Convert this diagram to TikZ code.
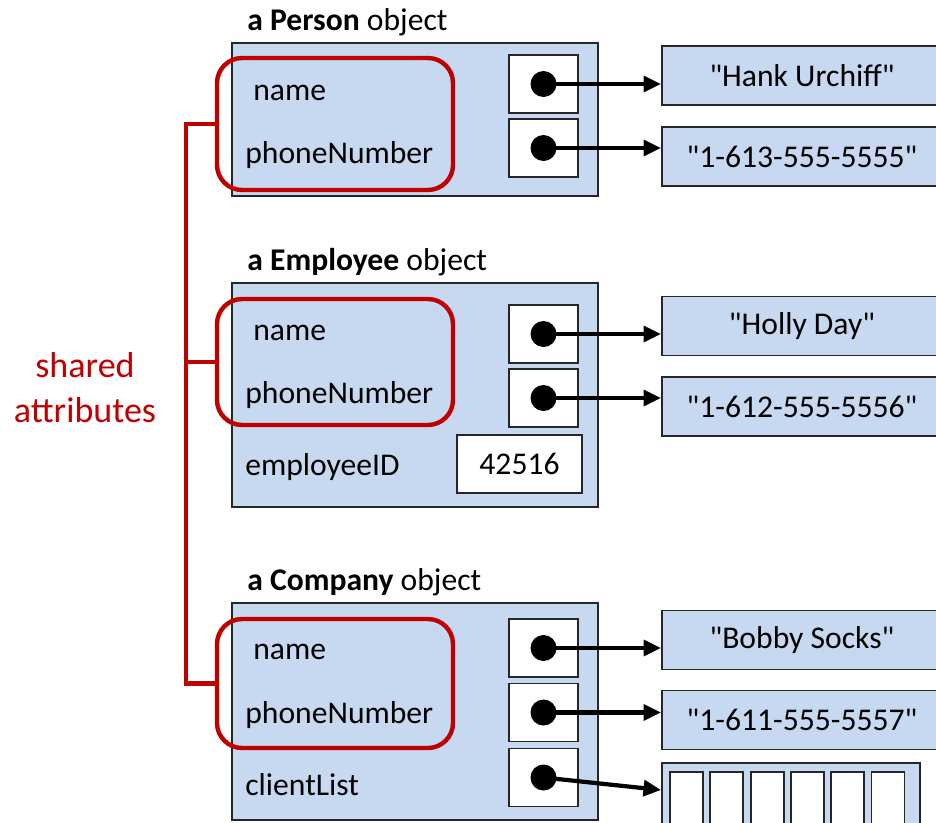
\documentclass[tikz,border=0pt]{standalone}
\usepackage{fontspec}
\setmainfont{Carlito}
\usetikzlibrary{arrows.meta}

\definecolor{objblue}{RGB}{198,217,240}
\definecolor{attrred}{RGB}{192,0,0}
\newcommand{\qstr}[1]{\textquotedbl#1\textquotedbl}

\begin{document}
\begin{tikzpicture}[x=0.02cm,y=-0.02cm,
		font=\fontsize{18}{22}\selectfont,
		objbox/.style={draw=black!85,line width=1.1pt,fill=objblue,minimum width=7.32cm,inner sep=0pt},
		cellbox/.style={draw=black!85,line width=1.1pt,fill=white,minimum width=1.38cm,minimum height=1.16cm,inner sep=0pt},
		dotnode/.style={circle,fill=black,minimum size=0.52cm,inner sep=0pt},
		valbox/.style={draw=black!85,line width=1.1pt,fill=objblue,minimum width=5.6cm,minimum height=1.18cm,inner sep=0pt},
		sharebox/.style={draw=attrred,line width=2.5pt,rounded corners=0.5cm,minimum width=4.72cm,inner sep=0pt},
		ptr/.style={line width=2.4pt,-{Triangle[length=10pt,width=9pt]}},
		bracket/.style={draw=attrred,line width=2.5pt},
		lbl/.style={anchor=base west,inner sep=0pt}]
		
		\useasboundingbox (0,0) rectangle (936,822);
		\clip (0,0) rectangle (936,822);
		
		%%%%%%%%%%%%%%%%% objects %%%%%%%%%%%%%%%%%%%
		\node[objbox,minimum height=3.06cm] (person) at (415,119.5) {};
		\node[objbox,minimum height=4.48cm] (employee) at (415,395) {};
		\node[objbox,minimum height=4.34cm] (company) at (415,711.5) {};
		
		% obj/class name/baseline of the title
		\foreach \obj/\cls/\y in {person/Person/30,employee/Employee/270,company/Company/590}
		{\node[lbl] (title-\obj) at (247,\y) {\textbf{a \cls} object};}
		
		%%%%%%%%%%%%%%%%% attributes %%%%%%%%%%%%%%%%%%%
		\foreach \obj/\ya/\yb in {person/100/163,employee/340/403,company/659/723}
		{\node[lbl] (name-\obj) at (253,\ya) {name};
			\node[lbl] (phone-\obj) at (245,\yb) {phoneNumber};}
		\node[lbl] (empid) at (245,475) {employeeID};
		\node[lbl] (clients) at (245,795) {clientList};
		\node[cellbox,minimum width=2.5cm] (idval) at (519.5,464) {42516};
		
		%%%%%%%%%%%%%%%%% references %%%%%%%%%%%%%%%%%%%
		% p = person, e = employee, c = company
		\foreach \c/\y in {p1/84,p2/148,e1/334,e2/398,c1/648,c2/712.5,c3/777.5}
		{\node[cellbox] (cell-\c) at (543.5,\y) {};}
		
		\foreach \c/\y/\txt in {p1/75.5/Hank Urchiff,p2/156.5/1-613-555-5555,
			e1/326/Holly Day,e2/406.5/1-612-555-5556,
			c1/640/Bobby Socks,c2/720/1-611-555-5557}
		{\node[valbox] (val-\c) at (802,\y) {\qstr{\txt}};}
		
		% the client list
		\node[valbox,minimum width=5.16cm,minimum height=1.6cm] (list) at (791,803) {};
		\foreach \i in {0,...,5}
		{\node[cellbox,minimum width=0.66cm,minimum height=1.24cm] (slot\i) at ({686.5+40.3*\i},803) {};}
		
		%%%%%%%%%%%%%%%%% pointers %%%%%%%%%%%%%%%%%%%%%%%
		\foreach \c in {p1,p2,e1,e2,c1,c2}
		{\draw[ptr] (cell-\c.center) -- (cell-\c.center -| val-\c.west);}
		\draw[ptr] (cell-c3.center) -- ([yshift=0.26cm]list.west);
		
		\foreach \c in {p1,p2,e1,e2,c1,c2,c3}
		{\node[dotnode] (dot-\c) at (cell-\c.center) {};}
		
		%%%%%%%%%%%%%%%%% shared attributes %%%%%%%%%%%%%%%%%%%
		\foreach \obj/\y/\h in {person/124/2.64,employee/362/2.52,company/683.5/2.58}
		{\node[sharebox,minimum height=\h cm] (share-\obj) at (335,\y) {};}
		
		\coordinate (spine) at (186,0);
		\draw[bracket] (share-person.west) -| (spine |- share-company.west) -- (share-company.west);
		\draw[bracket] (share-employee.west) -- (spine |- share-employee.west);
		
		\node[text=attrred,align=center,font=\fontsize{20.5}{25.5}\selectfont] (sharedlbl) at (85,388) {shared\\attributes};
	\end{tikzpicture}
\end{document}
